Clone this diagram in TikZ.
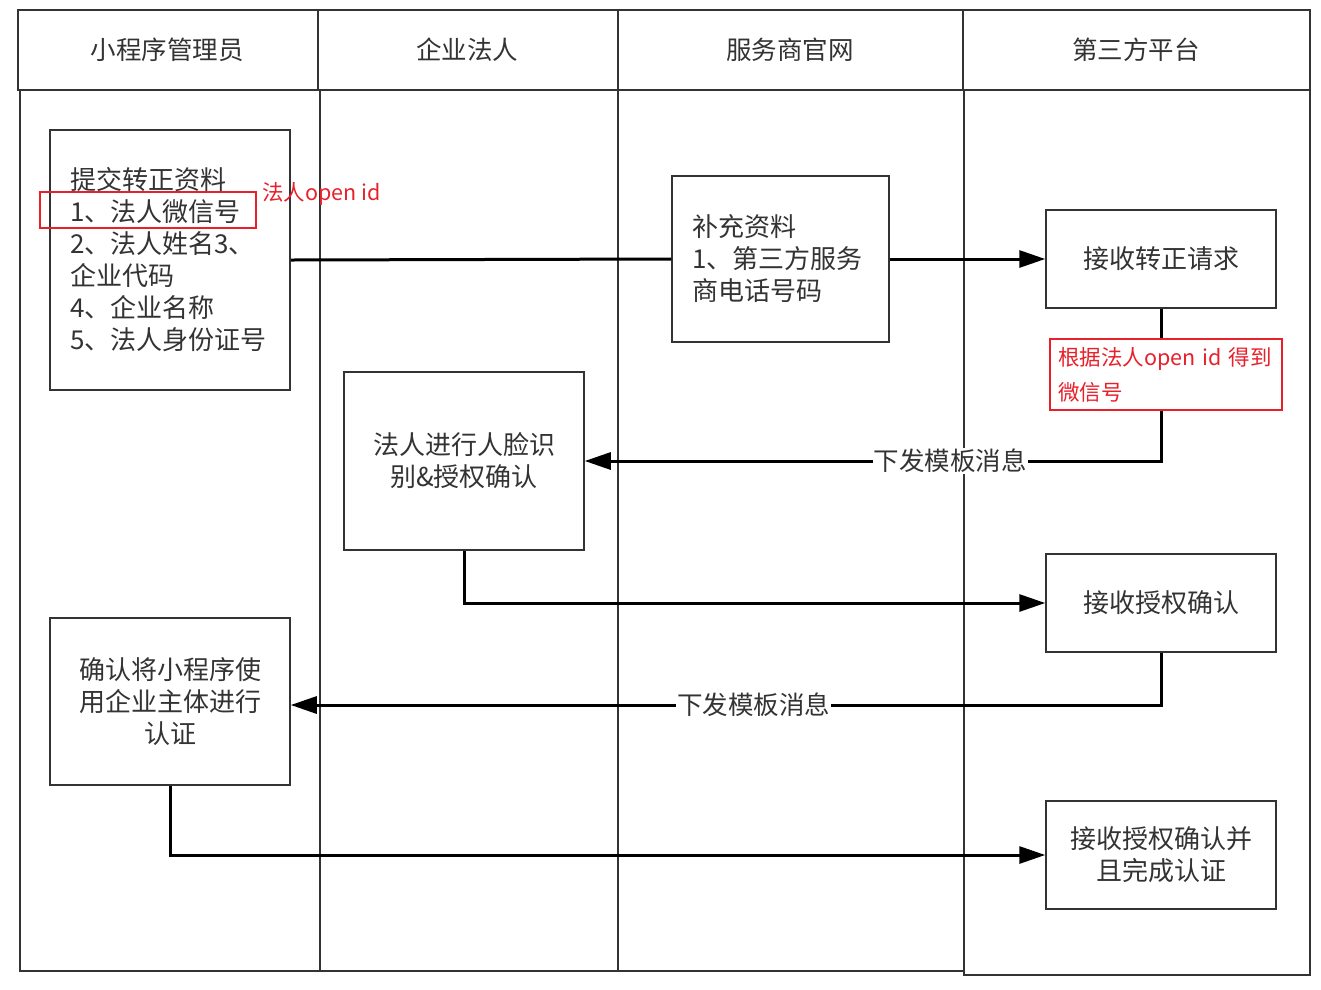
\documentclass[tikz,border=0pt]{standalone}
\usepackage{fontspec}
\setmainfont{Noto Sans CJK SC}
\usetikzlibrary{arrows.meta}
\definecolor{ink}{HTML}{333333}
\definecolor{redc}{HTML}{E8202A}
\tikzset{
  lane/.style={draw=ink, line width=1.5pt},
  lanetitle/.style={text=ink, font=\fontsize{25.5}{30}\selectfont},
  box/.style={draw=ink, line width=1.5pt, fill=white, text=ink, font=\fontsize{26}{32}\selectfont, inner sep=0pt},
  flow/.style={line width=3pt, draw=black},
  arr/.style={flow, -{Triangle[length=26pt,width=17pt]}},
  lbl/.style={fill=white, text=ink, font=\fontsize{25.5}{30}\selectfont, inner sep=1pt},
  redbox/.style={draw=redc, line width=2pt},
  redtext/.style={text=redc, font=\fontsize{21.5}{35}\selectfont}
}
\begin{document}
\begin{tikzpicture}[x=1pt,y=-1pt]
\useasboundingbox (0,0) rectangle (1321,989);
% lanes
\draw[lane] (18,10) rectangle (318,90);
\draw[lane] (318,10) rectangle (618,90);
\draw[lane] (618,10) rectangle (963,90);
\draw[lane] (963,10) rectangle (1310,90);
\draw[lane] (20,90) rectangle (320,971);
\draw[lane] (320,90) rectangle (618,971);
\draw[lane] (618,90) rectangle (964,971);
\draw[lane] (964,90) rectangle (1310,975);
\node[lanetitle] (h1) at (167,50) {小程序管理员};
\node[lanetitle] (h2) at (467,50) {企业法人};
\node[lanetitle] (h3) at (790,50) {服务商官网};
\node[lanetitle] (h4) at (1136,50) {第三方平台};
% boxes
\node[box, minimum width=240pt, minimum height=260pt, inner xsep=20pt, text width=200pt, align=left] (A) at (170,260)
  {提交转正资料\\1、法人微信号\\2、法人姓名3、\\企业代码\\4、企业名称\\5、法人身份证号};
\node[box, minimum width=217pt, minimum height=166pt, inner xsep=20pt, text width=177pt, align=left] (B) at (780.5,259)
  {补充资料\\1、第三方服务\\商电话号码};
\node[box, minimum width=230pt, minimum height=98pt] (C) at (1161,259) {接收转正请求};
\node[box, minimum width=240pt, minimum height=178pt, align=center] (D) at (464,461)
  {法人进行人脸识\\别\&授权确认};
\node[box, minimum width=230pt, minimum height=98pt] (E) at (1161,603) {接收授权确认};
\node[box, minimum width=240pt, minimum height=167pt, align=center] (F) at (170,701.5)
  {确认将小程序使\\用企业主体进行\\认证};
\node[box, minimum width=230pt, minimum height=108pt, align=center] (G) at (1161,855)
  {接收授权确认并\\且完成认证};
% connectors
\draw[flow] (A.east) -- (B.west);
\draw[arr] (B.east) -- (C.west);
\draw[arr] (C.south) |- node[lbl, pos=0.683] (l1) {下发模板消息} (D.east);
\draw[arr] (D.south) |- (E.west);
\draw[arr] (E.south) |- node[lbl, pos=0.734] (l2) {下发模板消息} ([yshift=-3.5pt]F.east);
\draw[arr] (F.south) |- (G.west);
% red annotations
\node[redbox, minimum width=216pt, minimum height=36pt] (r1) at (148,210) {};
\node[redtext, anchor=west, inner sep=0pt] (r1t) at (262,194) {法人open id};
\node[redbox, fill=white, minimum width=232pt, minimum height=71pt, inner xsep=8pt, text width=216pt, align=left, redtext] (r2) at (1166,374.5)
  {根据法人open id 得到\\微信号};
\end{tikzpicture}
\end{document}
